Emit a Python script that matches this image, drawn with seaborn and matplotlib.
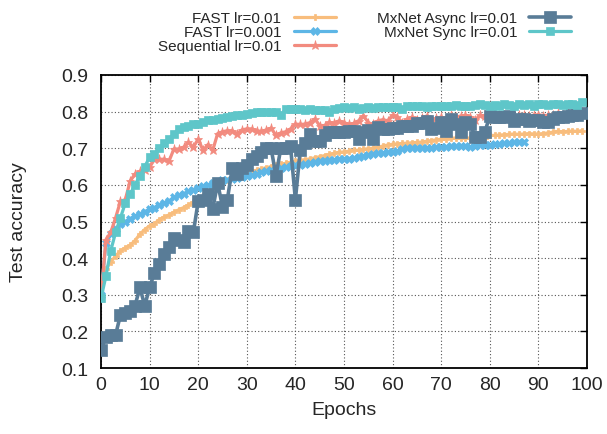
import numpy as np
import pandas as pd
import matplotlib
matplotlib.use("Agg")
import matplotlib.pyplot as plt
import seaborn as sns

# ---------------- data ----------------
fast_001 = [0.34, 0.37, 0.39, 0.405, 0.42, 0.428, 0.435, 0.448, 0.465, 0.478,
            0.488, 0.494, 0.505, 0.512, 0.518, 0.525, 0.532, 0.538, 0.545, 0.552,
            0.56, 0.57, 0.58, 0.59, 0.60, 0.607, 0.613, 0.618, 0.623, 0.628,
            0.632, 0.636, 0.64, 0.644, 0.647, 0.65, 0.653, 0.656, 0.659, 0.662,
            0.664, 0.667, 0.669, 0.671, 0.674, 0.677, 0.68, 0.683, 0.686, 0.689,
            0.69, 0.692, 0.694, 0.695, 0.697, 0.699, 0.70, 0.703, 0.706, 0.709,
            0.711, 0.712, 0.713, 0.714, 0.715, 0.716, 0.717, 0.719, 0.721, 0.723,
            0.725, 0.726, 0.727, 0.728, 0.729, 0.729, 0.727, 0.727, 0.728, 0.729,
            0.735, 0.735, 0.736, 0.737, 0.738, 0.739, 0.738, 0.739, 0.74, 0.739,
            0.739, 0.74, 0.742, 0.744, 0.746, 0.745, 0.746, 0.747, 0.746, 0.748]

fast_0001 = [0.30, 0.44, 0.465, 0.48, 0.492, 0.50, 0.508, 0.515, 0.52, 0.527,
             0.533, 0.538, 0.546, 0.551, 0.556, 0.566, 0.571, 0.576, 0.582, 0.587,
             0.592, 0.597, 0.60, 0.604, 0.608, 0.612, 0.614, 0.617, 0.619, 0.621,
             0.623, 0.627, 0.63, 0.634, 0.638, 0.641, 0.644, 0.647, 0.649, 0.651,
             0.653, 0.655, 0.657, 0.659, 0.662, 0.664, 0.666, 0.667, 0.669, 0.67,
             0.671, 0.672, 0.673, 0.676, 0.679, 0.682, 0.685, 0.686, 0.688, 0.689,
             0.69, 0.692, 0.699, 0.70, 0.70, 0.701, 0.70, 0.701, 0.702, 0.703,
             0.703, 0.704, 0.705, 0.706, 0.706, 0.707, 0.704, 0.706, 0.708, 0.709,
             0.71, 0.711, 0.712, 0.713, 0.714, 0.716, 0.717, 0.718]

sequential = [0.29, 0.45, 0.47, 0.51, 0.555, 0.56, 0.61, 0.63, 0.637, 0.64,
              0.648, 0.67, 0.67, 0.67, 0.665, 0.698, 0.698, 0.703, 0.716, 0.703,
              0.725, 0.694, 0.71, 0.695, 0.74, 0.745, 0.748, 0.748, 0.74, 0.75,
              0.753, 0.753, 0.748, 0.746, 0.75, 0.755, 0.735, 0.742, 0.745, 0.753,
              0.766, 0.765, 0.766, 0.77, 0.78, 0.762, 0.762, 0.771, 0.768, 0.775,
              0.77, 0.765, 0.768, 0.775, 0.789, 0.77, 0.765, 0.775, 0.778, 0.775,
              0.79, 0.785, 0.77, 0.78, 0.785, 0.778, 0.782, 0.788, 0.775, 0.782,
              0.785, 0.78, 0.79, 0.785, 0.788, 0.79, 0.786, 0.778, 0.79, 0.788,
              0.792, 0.785, 0.79, 0.788, 0.786, 0.772, 0.79, 0.792, 0.788, 0.79,
              0.792, 0.789, 0.79, 0.792, 0.795, 0.79, 0.795, 0.793, 0.796, 0.80]

mx_async = [0.15, 0.185, 0.19, 0.19, 0.245, 0.25, 0.255, 0.27, 0.32, 0.27,
            0.32, 0.36, 0.385, 0.41, 0.43, 0.455, 0.45, 0.445, 0.475, 0.47,
            0.555, 0.56, 0.575, 0.535, 0.605, 0.54, 0.56, 0.645, 0.63, 0.645,
            0.655, 0.67, 0.68, 0.69, 0.70, 0.70, 0.625, 0.70, 0.70, 0.705,
            0.56, 0.695, 0.715, 0.74, 0.72, 0.72, 0.735, 0.745, 0.745, 0.745,
            0.745, 0.748, 0.748, 0.725, 0.745, 0.75, 0.725, 0.757, 0.752, 0.752,
            0.755, 0.755, 0.76, 0.76, 0.762, 0.77, 0.77, 0.774, 0.752, 0.755,
            0.772, 0.748, 0.78, 0.765, 0.745, 0.772, 0.766, 0.73, 0.73, 0.745,
            0.788, 0.786, 0.784, 0.785, 0.789, 0.775, 0.78, 0.78, 0.775, 0.777,
            0.777, 0.771, 0.772, 0.78, 0.785, 0.785, 0.789, 0.79, 0.79, 0.795]

mx_sync = [0.29, 0.35, 0.42, 0.47, 0.51, 0.55, 0.575, 0.60, 0.625, 0.65,
           0.675, 0.685, 0.70, 0.715, 0.725, 0.74, 0.752, 0.757, 0.762, 0.765,
           0.767, 0.772, 0.776, 0.777, 0.78, 0.782, 0.785, 0.787, 0.79, 0.792,
           0.794, 0.796, 0.798, 0.80, 0.80, 0.80, 0.799, 0.79, 0.807, 0.808,
           0.806, 0.806, 0.805, 0.806, 0.805, 0.804, 0.804, 0.798, 0.808, 0.81,
           0.812, 0.81, 0.812, 0.806, 0.81, 0.812, 0.81, 0.812, 0.812, 0.813,
           0.813, 0.812, 0.806, 0.815, 0.814, 0.815, 0.814, 0.812, 0.816, 0.815,
           0.816, 0.815, 0.816, 0.817, 0.815, 0.816, 0.815, 0.818, 0.82, 0.817,
           0.816, 0.818, 0.816, 0.82, 0.818, 0.816, 0.82, 0.818, 0.82, 0.816,
           0.822, 0.82, 0.818, 0.822, 0.82, 0.818, 0.822, 0.82, 0.818, 0.825]

labels = ["FAST lr=0.01", "FAST lr=0.001", "Sequential lr=0.01",
          "MxNet Async lr=0.01", "MxNet Sync lr=0.01"]
x_ticks = [0, 10, 20, 30, 40, 50, 60, 70, 80, 90, 100]
y_ticks = [0.1, 0.2, 0.3, 0.4, 0.5, 0.6, 0.7, 0.8, 0.9]

series = [fast_001, fast_0001, sequential, mx_async, mx_sync]

# ---------------- style ----------------
sns.set_style("white")
plt.rcParams['font.family'] = ['Liberation Sans', 'DejaVu Sans']

colors = ['#F8BD7D', '#5DB6E6', '#F28B7F', '#597C97', '#5EC6C9']
markers = ['P', 'X', '*', 's', 's']
msizes = [4.5, 5.5, 6.5, 8, 5.5]
lws = [2.3, 2.3, 2.3, 2.6, 2.3]

fig = plt.figure(figsize=(6.07, 4.35), dpi=100)
ax = fig.add_axes([0.1664, 0.1517, 0.8006, 0.6736])

rows = []
for lab, vals in zip(labels, series):
    for i, v in enumerate(vals):
        rows.append({"Epochs": i, "acc": v, "series": lab})
df = pd.DataFrame(rows)

for lab, c, m, ms, lw in zip(labels, colors, markers, msizes, lws):
    sub = df[df["series"] == lab]
    sns.lineplot(data=sub, x="Epochs", y="acc", ax=ax, color=c, marker=m,
                 markersize=ms, linewidth=lw, markeredgecolor=c,
                 markeredgewidth=0.5, label=lab, zorder=3)

ax.set_xlim(0, 100)
ax.set_ylim(0.1, 0.9)
ax.set_xticks(x_ticks)
ax.set_yticks(y_ticks)
ax.set_yticklabels([f"{t:.1f}" for t in y_ticks])
ax.set_xlabel("Epochs", fontsize=14)
ax.set_ylabel("Test accuracy", fontsize=14)
ax.xaxis.set_label_coords(0.5, -0.112)
ax.yaxis.set_label_coords(-0.152, 0.5)
ax.tick_params(direction='in', length=5, width=1, labelsize=14,
               top=True, right=True, color='black')
ax.tick_params(axis='y', pad=9)
ax.tick_params(axis='x', pad=6)
for s in ax.spines.values():
    s.set_color('black')
    s.set_linewidth(1.3)
ax.grid(True, linestyle=(0, (1, 2)), color='#555555', linewidth=0.8)
ax.set_axisbelow(True)

leg = ax.legend(loc='upper left', bbox_to_anchor=(158 / 607, 1 - 12 / 435),
                bbox_transform=fig.transFigure, ncol=2,
                markerfirst=False, frameon=False, fontsize=11,
                handlelength=2.75, handletextpad=0.8, columnspacing=2.7,
                labelspacing=0.0, borderpad=0.0, borderaxespad=0.0)
for t in leg.get_texts():
    t.set_ha('right')

fig.savefig("out.png", dpi=100)
